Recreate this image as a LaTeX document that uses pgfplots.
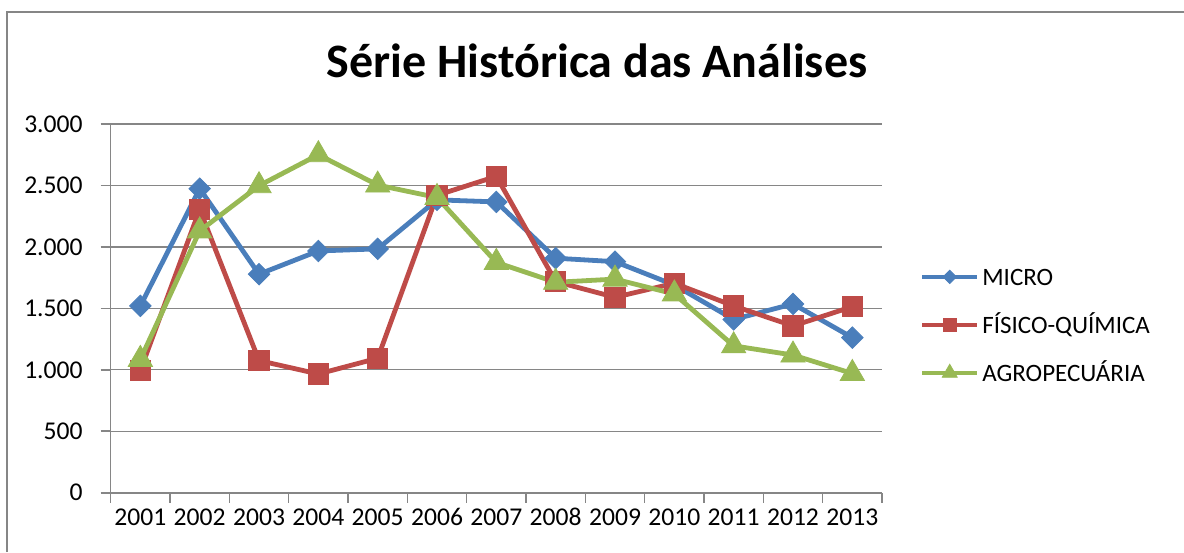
\documentclass[border=0pt]{standalone}
\usepackage{fontspec}
\setmainfont{Carlito}
\usepackage{pgfplots}
\pgfplotsset{compat=1.18}
\definecolor{cblue}{HTML}{4A7EBB}
\definecolor{cred}{HTML}{BE4B48}
\definecolor{cgreen}{HTML}{98B954}
\definecolor{cgray}{HTML}{868686}
\begin{document}
\begin{tikzpicture}
\path[use as bounding box] (0,0) rectangle (592pt,276pt);
\draw[cgray, line width=1pt] (3.5pt,0) -- (3.5pt,270pt) -- (592pt,270pt);
\node[font=\fontsize{24}{28}\selectfont\bfseries, anchor=base, inner sep=0pt] at (298.5pt,237pt) {Série Histórica das Análises};
\begin{axis}[
  at={(55.35pt,29.65pt)}, anchor=south west,
  scale only axis, width=385.65pt, height=184.35pt,
  xmin=0.5, xmax=13.5, ymin=0, ymax=3000,
  axis x line*=bottom, axis y line*=left,
  axis line style={-, cgray, line width=0.8pt},
  tick pos=left,
  xtick={0.5,1.5,2.5,3.5,4.5,5.5,6.5,7.5,8.5,9.5,10.5,11.5,12.5,13.5},
  xticklabels={},
  extra x ticks={1,2,3,4,5,6,7,8,9,10,11,12,13},
  extra x tick labels={2001,2002,2003,2004,2005,2006,2007,2008,2009,2010,2011,2012,2013},
  extra x tick style={major tick length=0pt, tick style={draw=none}, grid=none},
  ytick={0,500,1000,1500,2000,2500,3000},
  yticklabels={0,500,1.000,1.500,2.000,2.500,3.000},
  tick align=outside,
  major tick length=5pt,
  tick style={cgray, line width=0.8pt},
  ymajorgrids, major grid style={cgray, line width=0.6pt},
  tick label style={font=\fontsize{12.8}{15}\selectfont, text=black},
  xticklabel style={text height=8pt, text depth=0pt, yshift=-5pt},
  yticklabel style={xshift=-5.5pt},
  clip=false,
  legend style={draw=none, fill=none, at={(axis description cs:1.0489,0.455)}, anchor=west,
    inner sep=0pt, row sep=12pt, font=\fontsize{12.5}{15}\selectfont,
    cells={anchor=west}, nodes={inner xsep=1.5pt, inner ysep=0pt}},
  legend image code/.code={\draw[#1, line width=2pt, every mark/.append style={scale=0.62}, mark repeat=2, mark phase=2] plot coordinates {(0pt,0pt) (13.8pt,0pt) (27.6pt,0pt)};},
]
\addplot[cblue, line width=2.4pt, mark=square*, mark size=3.8pt, mark options={rotate=45, line width=0.4pt, fill=cblue}] coordinates {
(1,1520) (2,2474) (3,1778) (4,1967) (5,1984) (6,2383) (7,2366) (8,1908) (9,1880) (10,1690) (11,1410) (12,1536) (13,1262)};
\addlegendentry{\strut MICRO}
\addplot[cred, line width=2.4pt, mark=square*, mark size=5.1pt, mark options={line width=0.4pt, fill=cred}] coordinates {
(1,995) (2,2305) (3,1075) (4,966) (5,1094) (6,2420) (7,2574) (8,1718) (9,1590) (10,1704) (11,1520) (12,1357) (13,1514)};
\addlegendentry{\strut FÍSICO-QUÍMICA}
\addplot[cgreen, line width=2.4pt, mark=triangle*, mark size=7pt, mark options={line width=0.4pt, fill=cgreen}] coordinates {
(1,1085) (2,2130) (3,2498) (4,2750) (5,2503) (6,2402) (7,1874) (8,1712) (9,1738) (10,1617) (11,1195) (12,1120) (13,970)};
\addlegendentry{\strut AGROPECUÁRIA}
\end{axis}
\end{tikzpicture}
\end{document}
